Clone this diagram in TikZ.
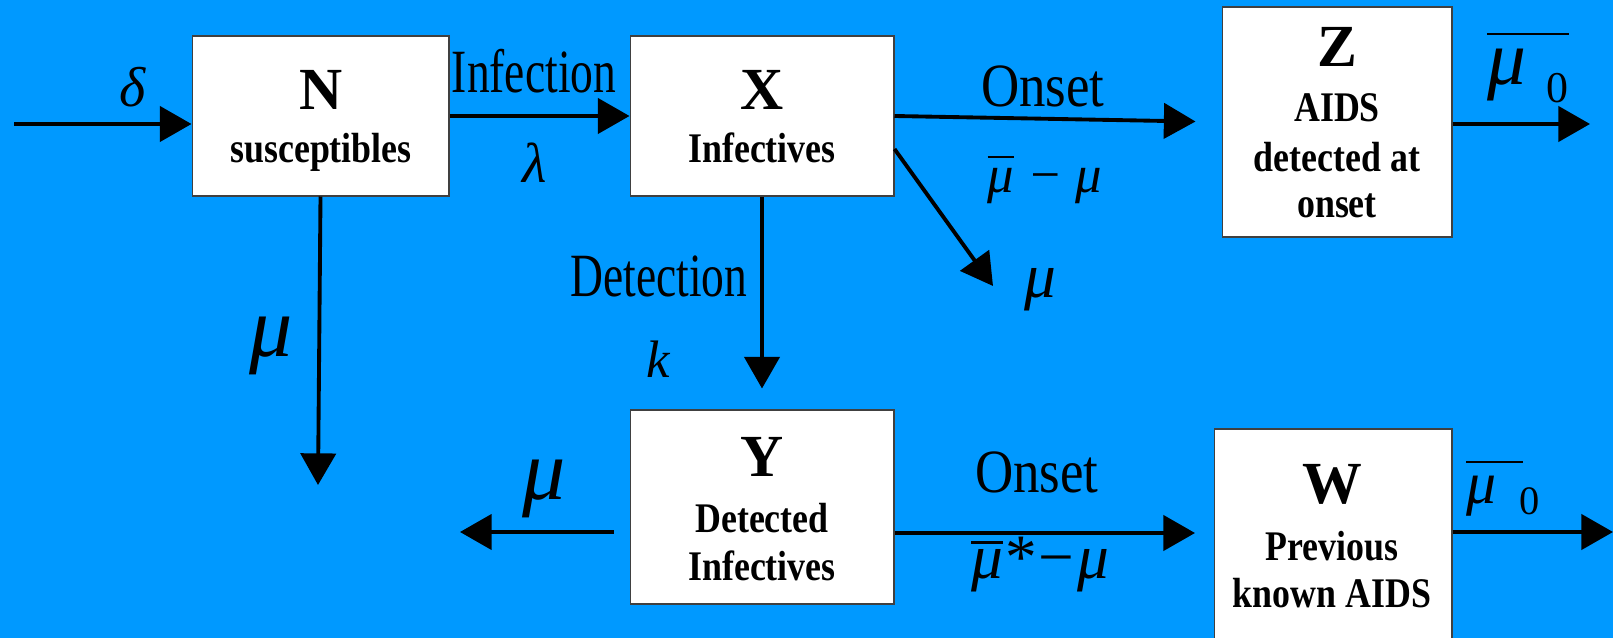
\documentclass[tikz,border=0pt]{standalone}
\usepackage{fontspec}
\setmainfont{Liberation Serif}
\newfontfamily\boxfont{Liberation Serif}[FakeStretch=0.85]
\newfontfamily\lblfont{Liberation Serif}[FakeStretch=0.86]
\newfontfamily\tightfont{Liberation Serif}[FakeStretch=0.74]
\usetikzlibrary{arrows.meta,calc}
\definecolor{slideblue}{RGB}{0,153,255}
\definecolor{boxline}{RGB}{64,64,64}
\newcommand{\titlefont}{\fontsize{34}{36}\selectfont\bfseries}
\newcommand{\bodyfont}{\boxfont\fontsize{24}{26}\selectfont\bfseries}
\newcommand{\flowfont}{\lblfont\fontsize{35}{38}\selectfont}
\newcommand{\tightflow}{\tightfont\fontsize{35}{38}\selectfont}
\newcommand{\greek}[1]{\fontsize{#1}{#1}\selectfont\itshape}
\newcommand{\ovr}[2][4pt]{\vbox{\hrule height 1.5pt\kern #1\hbox{#2}}}
\tikzset{
  stock/.style={draw=boxline, line width=0.6pt, fill=white, inner sep=0pt},
  flow/.style={line width=2.2pt, -{Triangle[length=18pt,width=20pt]}},
  lbl/.style={anchor=base, inner sep=0pt},
}

\begin{document}
\begin{tikzpicture}[x=0.02cm,y=-0.02cm]
\fill[slideblue] (0,0) rectangle (1613,638);
\useasboundingbox (0,0) rectangle (1613,638);
% compartments
\node[stock, minimum width=5.14cm, minimum height=3.2cm] (N) at (320.5,116) {};
\node[stock, minimum width=5.28cm, minimum height=3.2cm] (X) at (762,116) {};
\node[stock, minimum width=4.6cm, minimum height=4.6cm] (Z) at (1337,122) {};
\node[stock, minimum width=5.28cm, minimum height=3.88cm] (Y) at (762,507) {};
\node[stock, minimum width=4.76cm, minimum height=4.6cm] (W) at (1333,544) {};
\node[lbl, font=\titlefont] (Nname) at (321,110) {N};
\node[lbl, font=\bodyfont] (Ntext) at (321,163) {susceptibles};
\node[lbl, font=\titlefont] (Xname) at (762,110) {X};
\node[lbl, font=\bodyfont] (Xtext) at (762,163) {Infectives};
\node[lbl, font=\titlefont] (Zname) at (1337,67) {Z};
\node[lbl, font=\bodyfont] (Ztext1) at (1337,122) {AIDS};
\node[lbl, font=\bodyfont] (Ztext2) at (1337,172) {detected at};
\node[lbl, font=\bodyfont] (Ztext3) at (1337,218) {onset};
\node[lbl, font=\titlefont] (Yname) at (762,477) {Y};
\node[lbl, font=\bodyfont] (Ytext1) at (762,532) {Detected};
\node[lbl, font=\bodyfont] (Ytext2) at (762,580) {Infectives};
\node[lbl, font=\titlefont] (Wname) at (1332,503) {W};
\node[lbl, font=\bodyfont] (Wtext1) at (1332,560) {Previous};
\node[lbl, font=\bodyfont] (Wtext2) at (1332,607) {known AIDS};
% flows
\coordinate (in) at (14,124);
\coordinate (Nout) at (318,485);
\coordinate (Xout) at (993,286);
\coordinate (Yout) at (460,532);
\coordinate (Won) at (1195,533);
\coordinate (Zout) at (1590,124);
\coordinate (Wout) at (1613,532);
\draw[flow] (in) -- (in -| N.west);
\draw[flow] (N) -- (X);
\draw[flow, shorten >=0.52cm] (X.east) -- (Z.west);
\draw[flow] (X.-14) -- (Xout);
\draw[flow, shorten >=0.42cm] (X) -- (Y);
\draw[flow] (N.south) -- (Nout);
\draw[flow, shorten <=0.32cm] (Y.west |- Yout) -- (Yout);
\draw[flow] (Y.east |- Won) -- (Won);
\draw[flow] (Z.east |- Zout) -- (Zout);
\draw[flow] (W.east |- Wout) -- (Wout);
% rates
\node[lbl, font=\greek{32}] (delta) at (133,107) {δ};
\node[lbl, font=\tightflow] (infect) at (534,93) {Infection};
\node[lbl, font=\greek{32}] (lambda) at (535,183) {λ};
\node[lbl, font=\flowfont] (onset1) at (1043,107) {Onset};
\node[lbl, font=\greek{30}] (rate1) at (1045,193) {\ovr[6pt]{μ} − μ};
\node[lbl, font=\greek{36}] (muX) at (1040,298) {μ};
\node[lbl, font=\tightflow] (detect) at (659,297) {Detection};
\node[lbl, font=\greek{30}] (kappa) at (658,378) {k};
\node[lbl, font=\greek{49}] (muN) at (271,357) {μ};
\node[lbl, font=\greek{49}] (muY) at (544,500) {μ};
\node[lbl, font=\flowfont] (onset2) at (1037,493) {Onset};
\node[lbl, font=\greek{36}] (rate2) at (1040,578) {\ovr[3pt]{μ}*−μ};
\node[lbl, font=\greek{44}, anchor=base west] (muZ) at (1487,85) {\ovr[8pt]{μ\kern 0.55em}};
\node[lbl, font=\fontsize{25}{25}\selectfont] (zeroZ) at (1557,103) {0};
\node[lbl, font=\greek{34}, anchor=base west] (muW) at (1466,503) {\ovr[7pt]{μ\kern 0.45em}};
\node[lbl, font=\fontsize{23}{23}\selectfont] (zeroW) at (1530,515) {0};
\end{tikzpicture}
\end{document}
